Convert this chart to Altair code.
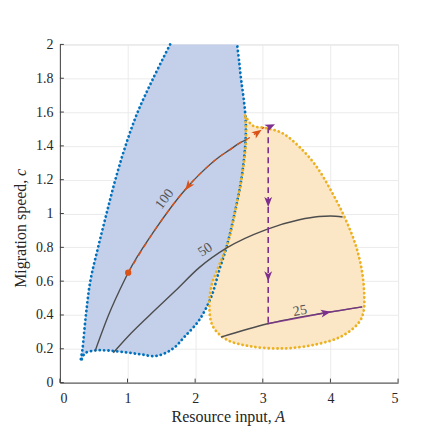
import altair as alt
import pandas as pd

# ---- data ----
blue_x = [1.63, 1.38, 1.15, 0.97, 0.82, 0.69, 0.565, 0.45, 0.385, 0.335, 0.31,
          0.37, 0.52, 0.71, 0.96, 1.20, 1.40, 1.55, 1.70, 1.84, 2.06, 2.24, 2.36,
          2.47, 2.60, 2.69, 2.74, 2.75, 2.72, 2.68, 2.65, 2.62]
blue_y = [2.0, 1.8, 1.6, 1.4, 1.2, 1.0, 0.8, 0.6, 0.4, 0.2, 0.127,
          0.173, 0.19, 0.19, 0.18, 0.167, 0.157, 0.173, 0.21, 0.27, 0.37, 0.51, 0.67,
          0.81, 1.03, 1.22, 1.40, 1.53, 1.67, 1.79, 1.90, 2.0]

orange_x = [2.74, 2.85, 3.05, 3.29, 3.54, 3.79, 4.03, 4.23, 4.38, 4.47, 4.50, 4.49,
            4.42, 4.17, 3.79, 3.29, 2.80, 2.46, 2.26, 2.21, 2.24, 2.35, 2.47, 2.60,
            2.69, 2.75, 2.74]
orange_y = [1.58, 1.52, 1.505, 1.475, 1.395, 1.28, 1.12, 0.96, 0.805, 0.65, 0.51, 0.42,
            0.355, 0.275, 0.226, 0.202, 0.216, 0.255, 0.334, 0.45, 0.57, 0.69, 0.81, 1.03,
            1.22, 1.42, 1.58]

l100_x = [0.52, 0.72, 0.96, 1.01, 1.40, 1.90, 2.06, 2.36, 2.51, 2.65, 2.75]
l100_y = [0.186, 0.40, 0.61, 0.65, 0.90, 1.163, 1.23, 1.336, 1.376, 1.415, 1.435]

l50_x = [0.79, 1.0, 1.33, 1.70, 2.06, 2.46, 3.05, 3.54, 3.83, 4.00, 4.18]
l50_y = [0.177, 0.27, 0.40, 0.54, 0.68, 0.795, 0.905, 0.963, 0.982, 0.985, 0.979]

l25_x = [2.38, 3.07, 3.93, 4.47]
l25_y = [0.269, 0.348, 0.413, 0.448]

traj_o_x = [1.01, 1.40, 1.90, 2.06, 2.36, 2.51, 2.65, 2.75, 2.90, 3.02]
traj_o_y = [0.65, 0.90, 1.163, 1.23, 1.336, 1.376, 1.415, 1.435, 1.475, 1.51]

drop_x = [3.08, 3.08]
drop_y = [1.51, 0.35]

traj_p_x = [3.07, 3.93, 4.47]
traj_p_y = [0.348, 0.413, 0.448]

arrow_x = [1.90, 2.92, 3.11, 3.08, 3.08, 3.93]
arrow_y = [1.163, 1.478, 1.515, 1.07, 0.63, 0.413]
arrow_angle = [217, 55, 65, 180, 180, 80]
arrow_color = ["#D95319", "#D95319", "#7E2F8E", "#7E2F8E", "#7E2F8E", "#7E2F8E"]

dot_x = [1.01]
dot_y = [0.65]

lab_text = ["100", "50", "25"]
lab_x = [1.55, 2.15, 3.55]
lab_y = [1.085, 0.785, 0.425]
lab_angle = [307, 326, 350]

x_ticks = [0, 1, 2, 3, 4, 5]
y_ticks = [0, 0.2, 0.4, 0.6, 0.8, 1, 1.2, 1.4, 1.6, 1.8, 2]

W, H = 339, 339
FONT = "Liberation Serif"
TXT = "#262626"


def path_df(xs, ys):
    return pd.DataFrame({"x": xs, "y": ys, "i": list(range(len(xs)))})


xs = alt.Scale(domain=[0, 5], nice=False, zero=False)
ys = alt.Scale(domain=[0, 2], nice=False, zero=False)
x_axis = alt.Axis(values=x_ticks, format="~g", grid=True, ticks=False,
                  labelPadding=9, domainColor="#404040", labelColor=TXT,
                  labelFont=FONT, labelFontSize=14, gridColor="#ebebeb")
y_axis = alt.Axis(values=y_ticks, format="~g", grid=True, ticks=False,
                  labelPadding=7, domainColor="#404040", labelColor=TXT,
                  labelFont=FONT, labelFontSize=14, gridColor="#ebebeb")
X = alt.X("x:Q", scale=xs, axis=x_axis, title=None)
Y = alt.Y("y:Q", scale=ys, axis=y_axis, title=None)
O = alt.Order("i:Q")
SMOOTH = "catmull-rom"

blue_fill = alt.Chart(path_df(blue_x, blue_y)).mark_line(
    fill="#c4d0ea", stroke="#c4d0ea", strokeWidth=0.5, filled=True,
    interpolate=SMOOTH
).encode(x=X, y=Y, order=O)

orange_fill = alt.Chart(path_df(orange_x, orange_y)).mark_line(
    fill="#fbe6c6", stroke="#fbe6c6", strokeWidth=0.5, filled=True,
    interpolate=SMOOTH
).encode(x=X, y=Y, order=O)

blue_edge = alt.Chart(path_df(blue_x, blue_y)).mark_line(
    stroke="#0072BD", strokeWidth=2.8, strokeDash=[0.1, 4.3], strokeCap="round",
    interpolate=SMOOTH
).encode(x=X, y=Y, order=O)

orange_edge = alt.Chart(path_df(orange_x, orange_y)).mark_line(
    stroke="#EDB120", strokeWidth=2.8, strokeDash=[0.1, 4.3], strokeCap="round",
    interpolate=SMOOTH
).encode(x=X, y=Y, order=O)


def gray_line(xx, yy):
    return alt.Chart(path_df(xx, yy)).mark_line(
        stroke="#4d4d4d", strokeWidth=1.4, interpolate="monotone"
    ).encode(x=X, y=Y, order=O)


line100 = gray_line(l100_x, l100_y)
line50 = gray_line(l50_x, l50_y)
line25 = gray_line(l25_x, l25_y)

traj_o = alt.Chart(path_df(traj_o_x, traj_o_y)).mark_line(
    stroke="#D95319", strokeWidth=1.4, strokeDash=[5, 5], interpolate="monotone"
).encode(x=X, y=Y, order=O)

drop = alt.Chart(path_df(drop_x, drop_y)).mark_line(
    stroke="#7E2F8E", strokeWidth=1.6, strokeDash=[6, 4]
).encode(x=X, y=Y, order=O)

traj_p = alt.Chart(path_df(traj_p_x, traj_p_y)).mark_line(
    stroke="#7E2F8E", strokeWidth=1.4, opacity=0.8
).encode(x=X, y=Y, order=O)

arrows = alt.Chart(pd.DataFrame({"x": arrow_x, "y": arrow_y, "a": arrow_angle,
                                 "c": arrow_color})).mark_point(
    shape="M0,-1L0.75,0.9L0,0.4L-0.75,0.9Z", filled=True, size=110, opacity=1
).encode(x=X, y=Y, angle=alt.Angle("a:Q", scale=None),
         color=alt.Color("c:N", scale=None))

dot = alt.Chart(pd.DataFrame({"x": dot_x, "y": dot_y})).mark_point(
    shape="circle", filled=True, size=40, color="#D95319", opacity=1
).encode(x=X, y=Y)

labels = alt.Chart(pd.DataFrame({"x": lab_x, "y": lab_y, "t": lab_text,
                                 "a": lab_angle})).mark_text(
    font=FONT, fontSize=14, color="#555555", align="center", baseline="middle"
).encode(x=X, y=Y, text="t:N", angle=alt.Angle("a:Q", scale=None))

# inward ticks
xt = alt.Chart(pd.DataFrame({"x": x_ticks})).mark_rule(color="#404040", strokeWidth=1).encode(
    x=X, y=alt.value(H), y2=alt.value(H - 4))
yt = alt.Chart(pd.DataFrame({"y": y_ticks})).mark_rule(color="#404040", strokeWidth=1).encode(
    y=Y, x=alt.value(0), x2=alt.value(4))

# axis titles with italic variable
one = pd.DataFrame({"k": [0]})
xtitle1 = alt.Chart(one).mark_text(font=FONT, fontSize=16, color=TXT, align="left",
                                   baseline="middle", text="Resource input,").encode(
    x=alt.value(112), y=alt.value(373))
xtitle2 = alt.Chart(one).mark_text(font=FONT, fontSize=16, color=TXT, align="left",
                                   baseline="middle", fontStyle="italic", text="A").encode(
    x=alt.value(216), y=alt.value(373))
ytitle1 = alt.Chart(one).mark_text(font=FONT, fontSize=16, color=TXT, align="left",
                                   baseline="middle", angle=270, text="Migration speed,").encode(
    x=alt.value(-39), y=alt.value(244))
ytitle2 = alt.Chart(one).mark_text(font=FONT, fontSize=16, color=TXT, align="left",
                                   baseline="middle", angle=270, fontStyle="italic", text="c").encode(
    x=alt.value(-39), y=alt.value(244 - 112))

chart = alt.layer(
    blue_fill, orange_fill, blue_edge, orange_edge,
    line100, line50, line25, traj_o, drop, traj_p, arrows, dot, labels,
    xt, yt, xtitle1, xtitle2, ytitle1, ytitle2
).properties(
    width=W, height=H,
    autosize=alt.AutoSizeParams(type="none"),
    padding={"left": 52, "top": 36, "right": 30, "bottom": 48},
).configure_view(stroke=None).configure(background="white")

chart.save("out.html", embed_options={"renderer": "svg", "actions": False})
